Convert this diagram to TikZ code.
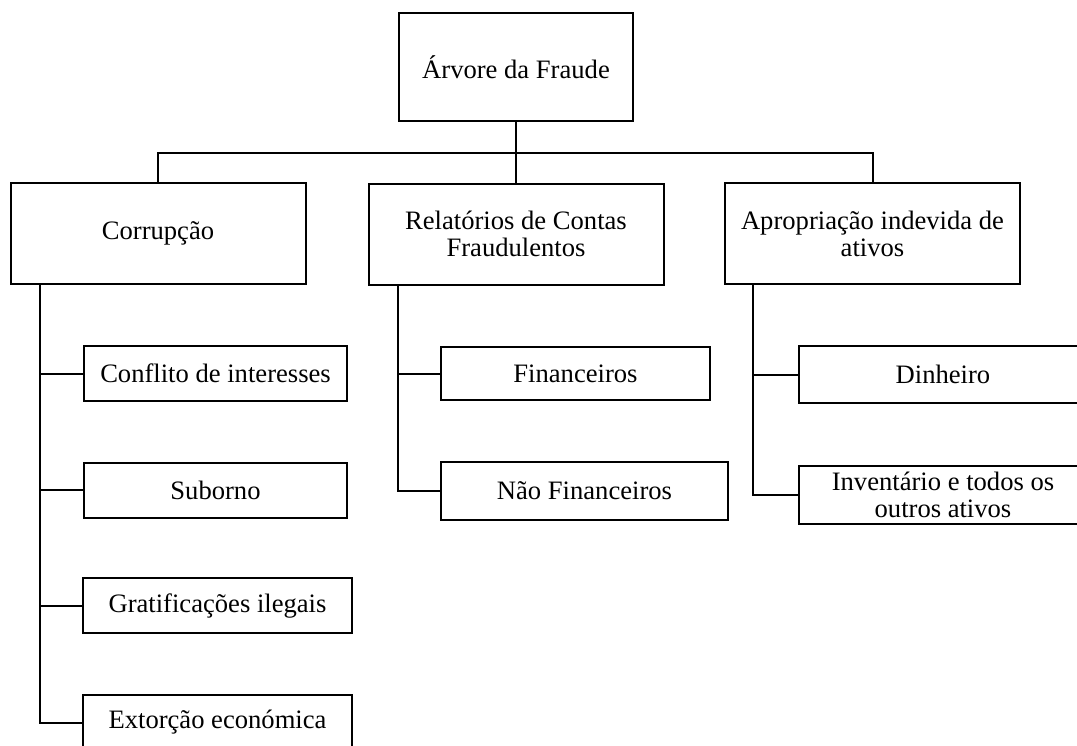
\documentclass[tikz,border=0pt]{standalone}
\usepackage{fontspec}
\setmainfont{Liberation Serif}
\begin{document}
\begin{tikzpicture}[x=0.5pt, y=-0.5pt, line width=1pt,
    box/.style={draw, align=center, inner sep=0pt, font=\fontsize{13.3}{13.4}\selectfont},
    tipo/.style={box, minimum width=147.5pt, minimum height=50.5pt},
    folha/.style={box, minimum height=27.5pt}]
    \useasboundingbox (0,0) rectangle (1077,745);
    \clip (0,0) rectangle (1077,745);

    % Raiz
    \node[box, minimum width=117pt, minimum height=54pt] (raiz) at (516,67) {Árvore da Fraude};

    % Tipos de fraude
    \node[tipo] (corr) at (158,233.5) {Corrupção};
    \node[tipo] (rel) at (516,234) {Relatórios de Contas\\Fraudulentos};
    \node[tipo] (apr) at (872.5,233.5) {Apropriação indevida de\\ativos};

    % Corrupção
    \node[folha, minimum width=131.5pt] (conf) at (215.5,373.5) {Conflito de interesses};
    \node[folha, minimum width=131.5pt] (sub) at (215.5,490) {Suborno};
    \node[folha, minimum width=134.5pt] (grat) at (217.5,605.5) {Gratificações ilegais};
    \node[folha, minimum width=134.5pt] (ext) at (217.5,722.5) {Extorção económica};

    % Relatórios
    \node[folha, minimum width=134.5pt, minimum height=26.5pt] (fin) at (575.5,373.5) {Financeiros};
    \node[folha, minimum width=143.5pt, minimum height=29pt] (nfin) at (584.5,491) {Não Financeiros};

    % Apropriação
    \node[folha, minimum width=144pt, minimum height=28.5pt] (din) at (943,374.5) {Dinheiro};
    \node[folha, minimum width=144pt, minimum height=29pt] (inv) at (943,495) {Inventário e todos os\\outros ativos};

    % Ligações
    \coordinate (barra) at (516,153);
    \draw (raiz.south) -- (rel.north);
    \draw (corr.north) |- (barra) -| (apr.north);

    \coordinate (tcorr) at ([xshift=15pt]corr.south west);
    \coordinate (trel) at ([xshift=15pt]rel.south west);
    \coordinate (tapr) at ([xshift=14.5pt]apr.south west);

    \draw (tcorr) |- (ext.west);
    \foreach \kid in {conf,sub,grat}
      \draw (tcorr |- \kid.west) -- (\kid.west);
    \draw (trel) |- (nfin.west);
    \draw (trel |- fin.west) -- (fin.west);
    \draw (tapr) |- (inv.west);
    \draw (tapr |- din.west) -- (din.west);
  \end{tikzpicture}
\end{document}
